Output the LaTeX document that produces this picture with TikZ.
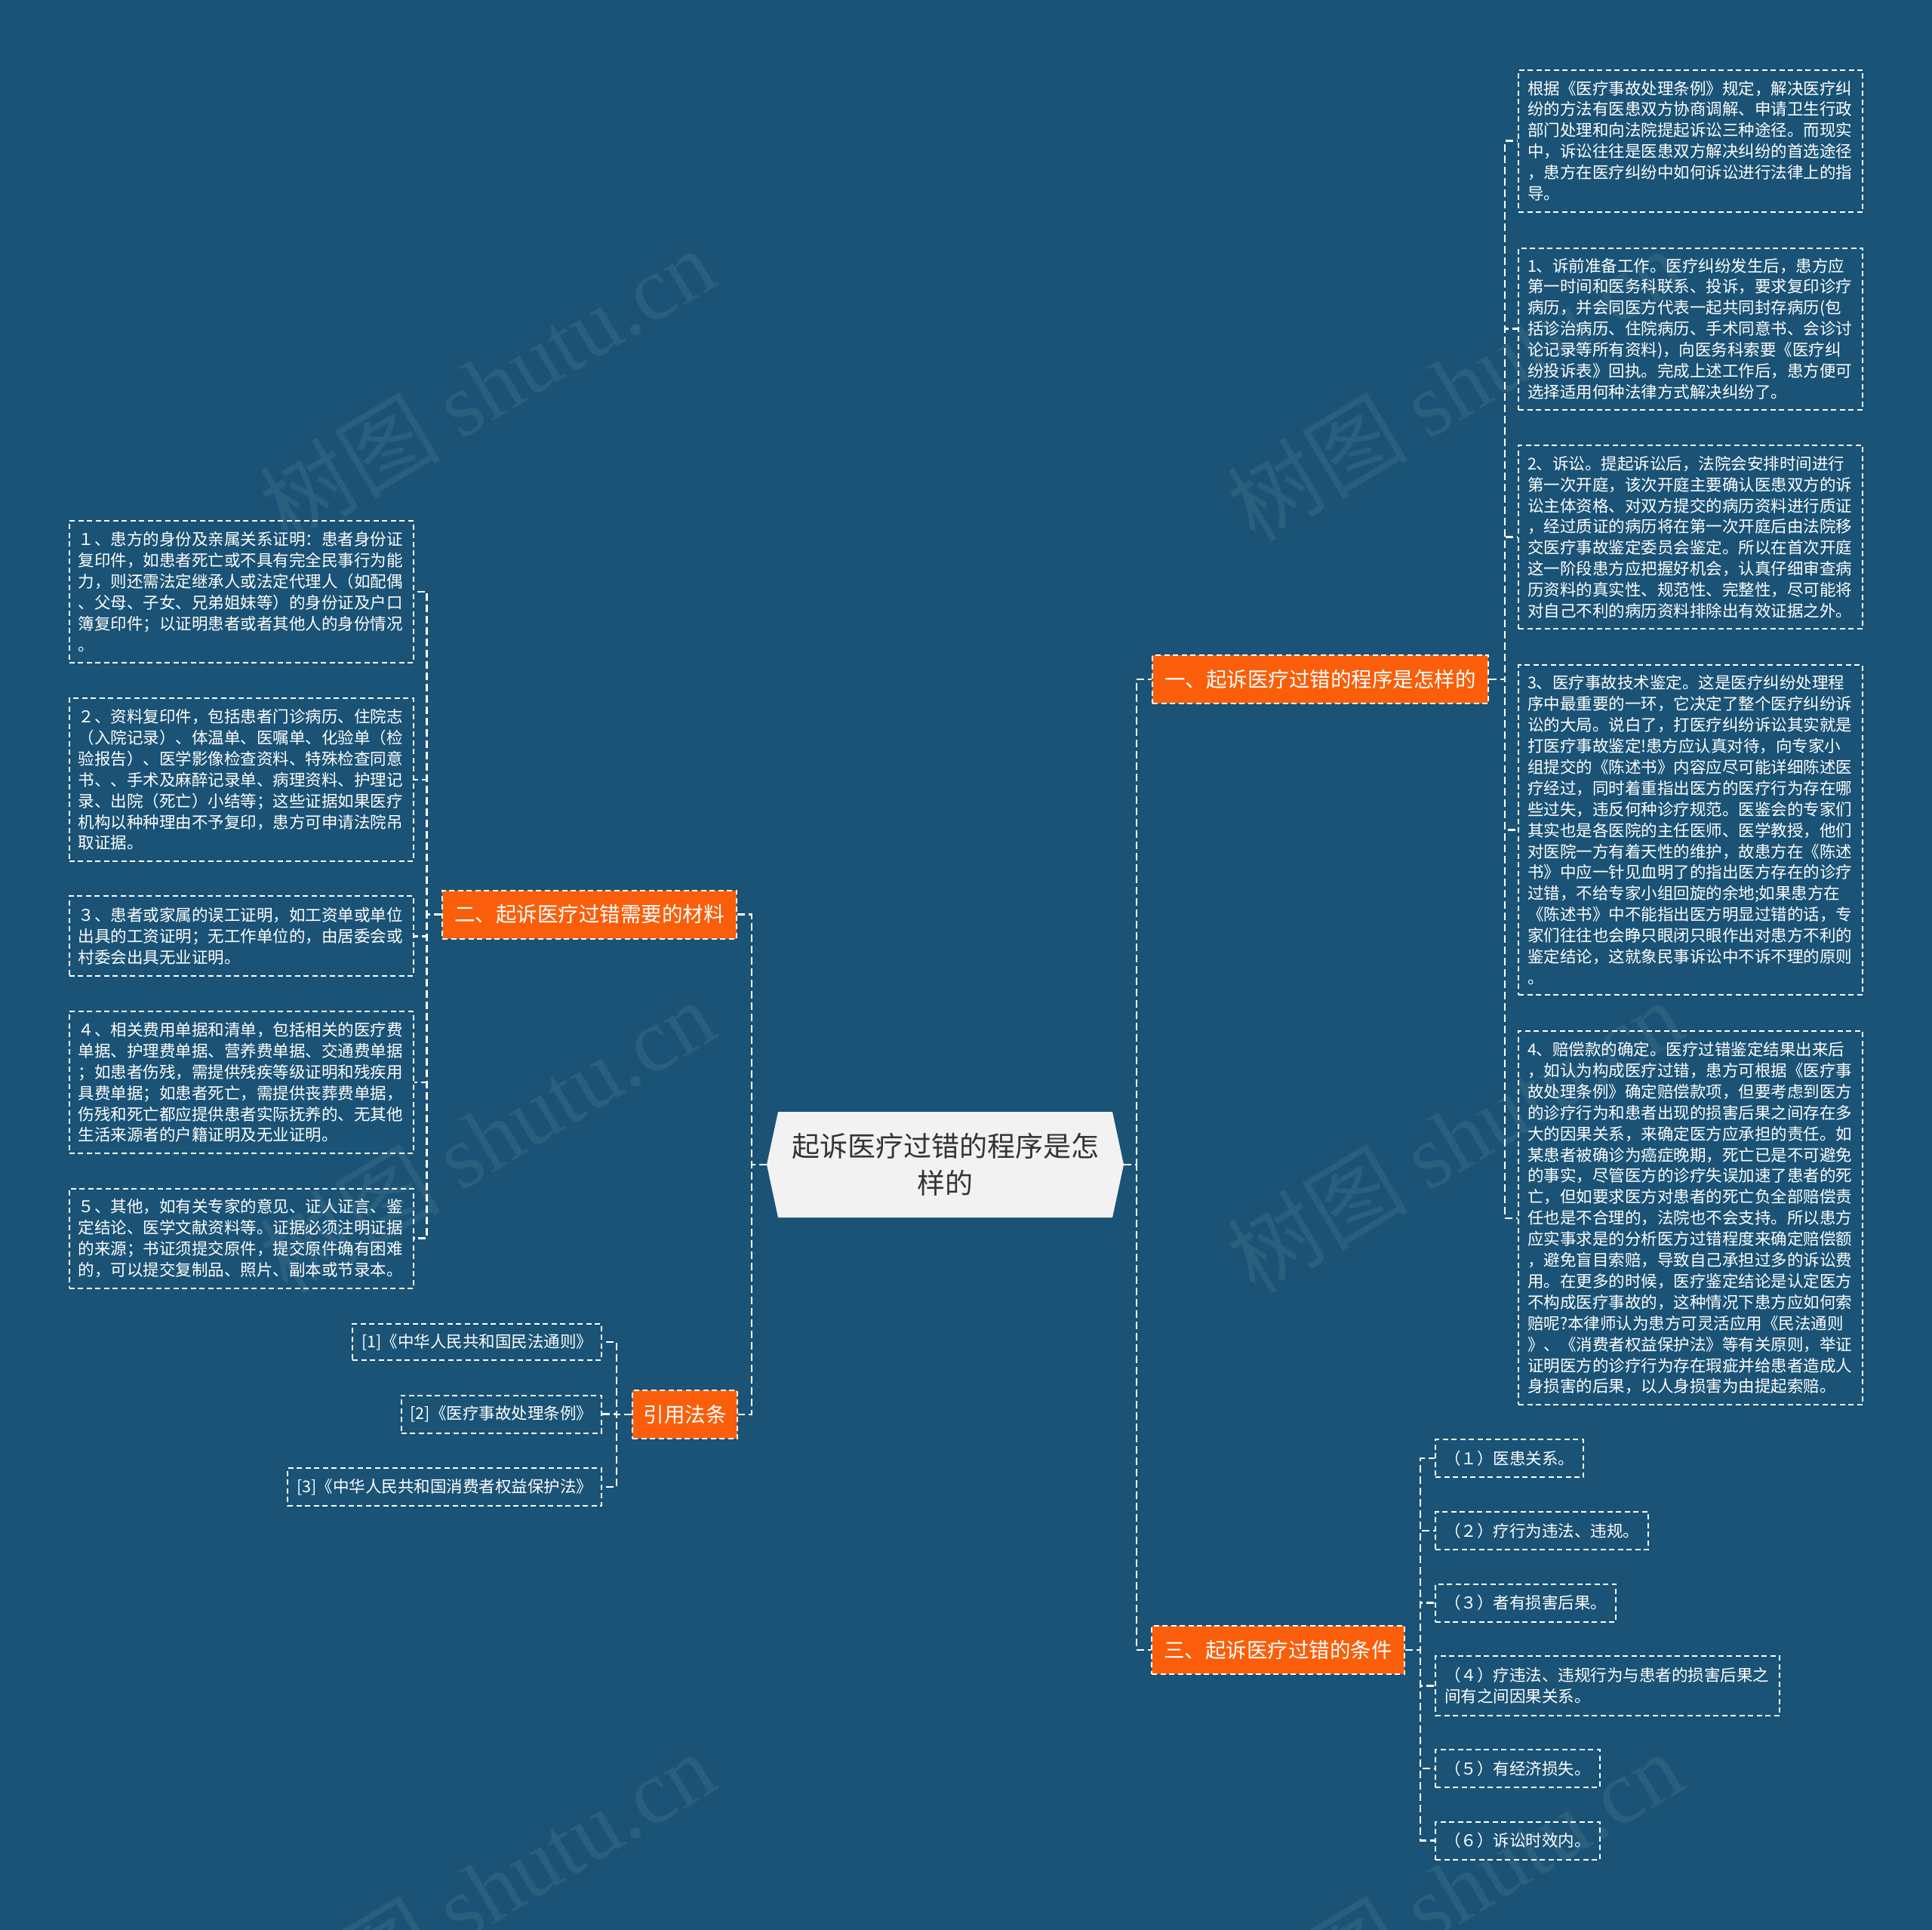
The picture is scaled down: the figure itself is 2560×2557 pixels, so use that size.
\documentclass[tikz,border=0pt]{standalone}
\usepackage{fontspec}
\setmainfont{Noto Sans CJK SC}
\newfontfamily\wmserif{Liberation Serif}
\usetikzlibrary{calc}
\definecolor{bg}{RGB}{26,83,117}
\definecolor{org}{RGB}{250,94,10}
\definecolor{rootfill}{RGB}{242,242,242}
\definecolor{roottext}{RGB}{51,51,51}
\begin{document}
\begin{tikzpicture}[x=1pt,y=-1pt,
  conn/.style={draw=white, line width=2.5pt, dash pattern=on 10pt off 5pt},
  boxline/.style={draw=white, line width=2pt, dash pattern=on 7pt off 4.5pt},
  leaf/.style={boxline, text=white, font=\fontsize{21.5}{27.9}\selectfont,
     inner xsep=12pt, inner ysep=0pt, align=left, text width=432pt},
  small/.style={boxline, text=white, font=\fontsize{21.5}{27.9}\selectfont,
     inner xsep=12pt, inner ysep=0pt, minimum height=50pt},
  branch/.style={boxline, fill=org, text=white, font=\fontsize{27.5}{33}\selectfont,
     inner xsep=14pt, inner ysep=0pt, minimum height=64pt},
  rootnode/.style={text=roottext, font=\fontsize{37}{49}\selectfont, align=center,
     minimum width=473pt, minimum height=140pt, inner sep=0pt},
  wm/.style={text=white, text opacity=0.07, font=\fontsize{120}{120}\selectfont, rotate=31}
]
\useasboundingbox (0,0) rectangle (2560,2557);
\fill[bg] (0,0) rectangle (2560,2557);

% watermarks
\node[wm] (w1) at (645,509) {树图 {\wmserif shutu.cn}};
\node[wm] (w2) at (1927,509) {树图 {\wmserif shutu.cn}};
\node[wm] (w3) at (645,1505) {树图 {\wmserif shutu.cn}};
\node[wm] (w4) at (1927,1505) {树图 {\wmserif shutu.cn}};
\node[wm] (w5) at (645,2501) {树图 {\wmserif shutu.cn}};
\node[wm] (w6) at (1927,2501) {树图 {\wmserif shutu.cn}};

% root
\fill[rootfill] (1016,1543) -- (1031,1473) -- (1474,1473) -- (1489,1543) -- (1474,1613) -- (1031,1613) -- cycle;
\node[rootnode] (root) at (1252.5,1543) {起诉医疗过错的程序是怎\\样的};

% branches
\node[branch, minimum width=445pt] (b1) at (1749.5,900) {一、起诉医疗过错的程序是怎样的};
\node[branch, minimum width=390pt] (b2) at (781,1211.5) {二、起诉医疗过错需要的材料};
\node[branch, minimum width=335pt] (b3) at (1693.5,2186) {三、起诉医疗过错的条件};
\node[branch, minimum width=139pt] (b4) at (907.5,1874) {引用法条};

% right leaves
\node[leaf, minimum height=188pt] (r0) at (2240,186.5) {根据《医疗事故处理条例》规定，解决医疗纠\\纷的方法有医患双方协商调解、申请卫生行政\\部门处理和向法院提起诉讼三种途径。而现实\\中，诉讼往往是医患双方解决纠纷的首选途径\\，患方在医疗纠纷中如何诉讼进行法律上的指\\导。};
\node[leaf, minimum height=214pt] (r1) at (2240,435.5) {1、诉前准备工作。医疗纠纷发生后，患方应\\第一时间和医务科联系、投诉，要求复印诊疗\\病历，并会同医方代表一起共同封存病历(包\\括诊治病历、住院病历、手术同意书、会诊讨\\论记录等所有资料)，向医务科索要《医疗纠\\纷投诉表》回执。完成上述工作后，患方便可\\选择适用何种法律方式解决纠纷了。};
\node[leaf, minimum height=243pt] (r2) at (2240,711.7) {2、诉讼。提起诉讼后，法院会安排时间进行\\第一次开庭，该次开庭主要确认医患双方的诉\\讼主体资格、对双方提交的病历资料进行质证\\，经过质证的病历将在第一次开庭后由法院移\\交医疗事故鉴定委员会鉴定。所以在首次开庭\\这一阶段患方应把握好机会，认真仔细审查病\\历资料的真实性、规范性、完整性，尽可能将\\对自己不利的病历资料排除出有效证据之外。};
\node[leaf, minimum height=437pt] (r3) at (2240,1099.7) {3、医疗事故技术鉴定。这是医疗纠纷处理程\\序中最重要的一环，它决定了整个医疗纠纷诉\\讼的大局。说白了，打医疗纠纷诉讼其实就是\\打医疗事故鉴定!患方应认真对待，向专家小\\组提交的《陈述书》内容应尽可能详细陈述医\\疗经过，同时着重指出医方的医疗行为存在哪\\些过失，违反何种诊疗规范。医鉴会的专家们\\其实也是各医院的主任医师、医学教授，他们\\对医院一方有着天性的维护，故患方在《陈述\\书》中应一针见血明了的指出医方存在的诊疗\\过错，不给专家小组回旋的余地;如果患方在\\《陈述书》中不能指出医方明显过错的话，专\\家们往往也会睁只眼闭只眼作出对患方不利的\\鉴定结论，这就象民事诉讼中不诉不理的原则\\。};
\node[leaf, minimum height=495pt] (r4) at (2240,1613.8) {4、赔偿款的确定。医疗过错鉴定结果出来后\\，如认为构成医疗过错，患方可根据《医疗事\\故处理条例》确定赔偿款项，但要考虑到医方\\的诊疗行为和患者出现的损害后果之间存在多\\大的因果关系，来确定医方应承担的责任。如\\某患者被确诊为癌症晚期，死亡已是不可避免\\的事实，尽管医方的诊疗失误加速了患者的死\\亡，但如要求医方对患者的死亡负全部赔偿责\\任也是不合理的，法院也不会支持。所以患方\\应实事求是的分析医方过错程度来确定赔偿额\\，避免盲目索赔，导致自己承担过多的诉讼费\\用。在更多的时候，医疗鉴定结论是认定医方\\不构成医疗事故的，这种情况下患方应如何索\\赔呢?本律师认为患方可灵活应用《民法通则\\》、《消费者权益保护法》等有关原则，举证\\证明医方的诊疗行为存在瑕疵并给患者造成人\\身损害的后果，以人身损害为由提起索赔。};

% left leaves
\node[leaf, minimum height=188pt] (l1) at (319.5,784) {１、患方的身份及亲属关系证明：患者身份证\\复印件，如患者死亡或不具有完全民事行为能\\力，则还需法定继承人或法定代理人（如配偶\\、父母、子女、兄弟姐妹等）的身份证及户口\\簿复印件；以证明患者或者其他人的身份情况\\。};
\node[leaf, minimum height=216pt] (l2) at (319.5,1033) {２、资料复印件，包括患者门诊病历、住院志\\（入院记录）、体温单、医嘱单、化验单（检\\验报告）、医学影像检查资料、特殊检查同意\\书、、手术及麻醉记录单、病理资料、护理记\\录、出院（死亡）小结等；这些证据如果医疗\\机构以种种理由不予复印，患方可申请法院吊\\取证据。};
\node[leaf, minimum height=106pt] (l3) at (319.5,1240.3) {３、患者或家属的误工证明，如工资单或单位\\出具的工资证明；无工作单位的，由居委会或\\村委会出具无业证明。};
\node[leaf, minimum height=188pt] (l4) at (319.5,1434) {４、相关费用单据和清单，包括相关的医疗费\\单据、护理费单据、营养费单据、交通费单据\\；如患者伤残，需提供残疾等级证明和残疾用\\具费单据；如患者死亡，需提供丧葬费单据，\\伤残和死亡都应提供患者实际抚养的、无其他\\生活来源者的户籍证明及无业证明。};
\node[leaf, minimum height=132pt] (l5) at (319.5,1640.5) {５、其他，如有关专家的意见、证人证言、鉴\\定结论、医学文献资料等。证据必须注明证据\\的来源；书证须提交原件，提交原件确有困难\\的，可以提交复制品、照片、副本或节录本。};

% citations
\node[small, anchor=east, minimum height=48pt] (k1) at (798,1778) {[1]《中华人民共和国民法通则》};
\node[small, anchor=east] (k2) at (798,1873.5) {[2]《医疗事故处理条例》};
\node[small, anchor=east] (k3) at (798,1970) {[3]《中华人民共和国消费者权益保护法》};

% conditions
\node[small, anchor=west] (c1) at (1901,1932) {（１）医患关系。};
\node[small, anchor=west] (c2) at (1901,2028) {（２）疗行为违法、违规。};
\node[small, anchor=west] (c3) at (1901,2123.5) {（３）者有损害后果。};
\node[leaf, anchor=west, minimum height=79pt] (c4) at (1901,2233.5) {（４）疗违法、违规行为与患者的损害后果之\\间有之间因果关系。};
\node[small, anchor=west] (c5) at (1901,2343) {（５）有经济损失。};
\node[small, anchor=west] (c6) at (1901,2438.5) {（６）诉讼时效内。};

% trunk points
\coordinate (rt) at (1506,1543);
\coordinate (lt) at (996,1543);
\coordinate (t1) at ([xshift=21pt]b1.east);
\coordinate (t2) at ([xshift=-19.5pt]b2.west);
\coordinate (t3) at ([xshift=20pt]b3.east);
\coordinate (t4) at ([xshift=-20pt]b4.west);

% connectors
\foreach \c in {b1,b3} \draw[conn] (root.east) -- (rt) |- (\c.west);
\foreach \c in {b2,b4} \draw[conn] (root.west) -- (lt) |- (\c.east);
\foreach \c in {r0,r1,r2,r3,r4} \draw[conn] (b1.east) -- (t1) |- (\c.west);
\foreach \c in {l1,l2,l3,l4,l5} \draw[conn] (b2.west) -- (t2) |- (\c.east);
\foreach \c in {c1,c2,c3,c4,c5,c6} \draw[conn] (b3.east) -- (t3) |- (\c.west);
\foreach \c in {k1,k2,k3} \draw[conn] (b4.west) -- (t4) |- (\c.east);
\end{tikzpicture}
\end{document}
